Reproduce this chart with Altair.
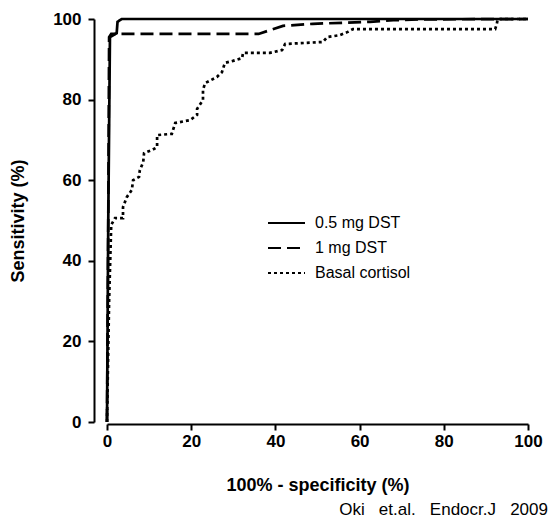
import altair as alt
import pandas as pd

FONT = "Liberation Sans"

series_names = ["0.5 mg DST", "1 mg DST", "Basal cortisol"]
x_ticks = [0, 20, 40, 60, 80, 100]
y_ticks = [0, 20, 40, 60, 80, 100]
x_title = "100% - specificity (%)"
y_title = "Sensitivity (%)"
citation = "Oki\u00a0\u00a0 et.al.\u00a0\u00a0 Endocr.J\u00a0\u00a0 2009"

# 0.5 mg DST (solid)
solid_x = [0, 0.3, 0.7, 2.3, 2.5, 3.5, 100]
solid_y = [0, 50, 95.5, 96.5, 99.3, 100, 100]

# 1 mg DST (dashed)
dashed_x = [0, 0.3, 0.5, 1.0, 36.0, 41.8, 48.9, 57.0, 62.5, 68.0, 74.3, 100]
dashed_y = [0, 50, 95.5, 96.3, 96.3, 98.3, 98.8, 99.1, 99.3, 99.7, 99.9, 100]

# Basal cortisol (dotted)
dotted_x = [0, 0.5, 1.0, 1.9, 3.8, 3.8, 4.7, 5.9, 6.2, 7.6, 7.8, 8.6, 8.8, 10.7,
            11.9, 11.9, 15.4, 16.2, 19.7, 21.4, 21.4, 22.8, 22.8, 23.3, 26.1,
            27.3, 28.0, 29.9, 32.1, 32.3, 38.7, 41.6, 42.3, 51.3, 52.3, 55.3,
            57.2, 58.4, 92.2, 92.6, 92.8, 100]
dotted_y = [0, 30, 48.9, 50.6, 50.6, 53.3, 55.8, 57.6, 60.0, 60.8, 62.5, 64.5,
            66.7, 67.5, 68.2, 71.2, 71.5, 74.2, 74.9, 76.2, 77.7, 79.9, 82.4,
            84.1, 85.6, 86.8, 89.1, 89.6, 90.3, 91.6, 91.6, 92.3, 93.8, 94.3,
            95.5, 96.0, 96.8, 97.5, 97.5, 98.8, 100, 100]

rows = []
for name, xs, ys in [(series_names[0], solid_x, solid_y),
                     (series_names[1], dashed_x, dashed_y),
                     (series_names[2], dotted_x, dotted_y)]:
    for i, (xv, yv) in enumerate(zip(xs, ys)):
        rows.append({"series": name, "x": xv, "y": yv, "order": i})
df = pd.DataFrame(rows)

dash_scale = alt.Scale(domain=series_names, range=[[1, 0], [13, 6], [3, 3]])

lines = alt.Chart(df).mark_line(color="black", strokeWidth=2.7, strokeCap="butt").encode(
    x=alt.X("x:Q", scale=alt.Scale(domain=[0, 100], nice=False),
            axis=alt.Axis(values=x_ticks, title=x_title, offset=2, labelPadding=3,
                          titlePadding=27, labelFlush=False, labelOverlap=False)),
    y=alt.Y("y:Q", scale=alt.Scale(domain=[0, 100], nice=False),
            axis=alt.Axis(values=y_ticks, title=y_title, offset=13, labelPadding=7,
                          titlePadding=25, labelOverlap=False)),
    strokeDash=alt.StrokeDash("series:N", scale=dash_scale, legend=None),
    detail="series:N",
    order="order:Q",
)

leg_df = pd.DataFrame({"series": series_names})
leg_y = alt.Y("series:N",
              scale=alt.Scale(type="point", domain=series_names, range=[204, 254], padding=0),
              axis=None)
leg_rules = alt.Chart(leg_df).mark_rule(color="black", strokeWidth=2.2).encode(
    x=alt.value(161), x2=alt.value(198), y=leg_y,
    strokeDash=alt.StrokeDash("series:N", scale=dash_scale, legend=None),
)
leg_text = alt.Chart(leg_df).mark_text(align="left", baseline="middle", fontSize=16,
                                       font=FONT, color="black").encode(
    x=alt.value(208), y=leg_y, text="series:N"
)

cite_df = pd.DataFrame({"t": [citation]})
cite = alt.Chart(cite_df).mark_text(align="right", baseline="middle", fontSize=17,
                                    font=FONT, color="black").encode(
    x=alt.value(441), y=alt.value(491), text="t:N"
)

chart = (
    alt.layer(lines, leg_rules, leg_text, cite)
    .resolve_scale(y="independent")
    .properties(width=421, height=403,
                autosize=alt.AutoSizeParams(type="none"),
                padding={"left": 99, "top": 11, "right": 23, "bottom": 97})
    .configure_view(stroke=None)
    .configure_axis(domainColor="black", domainWidth=2, tickColor="black", tickWidth=2,
                    tickSize=6, labelFont=FONT, labelFontSize=17, labelFontWeight="bold",
                    labelColor="black", titleFont=FONT, titleFontSize=18,
                    titleFontWeight="bold", titleColor="black", grid=False)
)

chart.save("out.html", embed_options={"renderer": "svg", "actions": False})
